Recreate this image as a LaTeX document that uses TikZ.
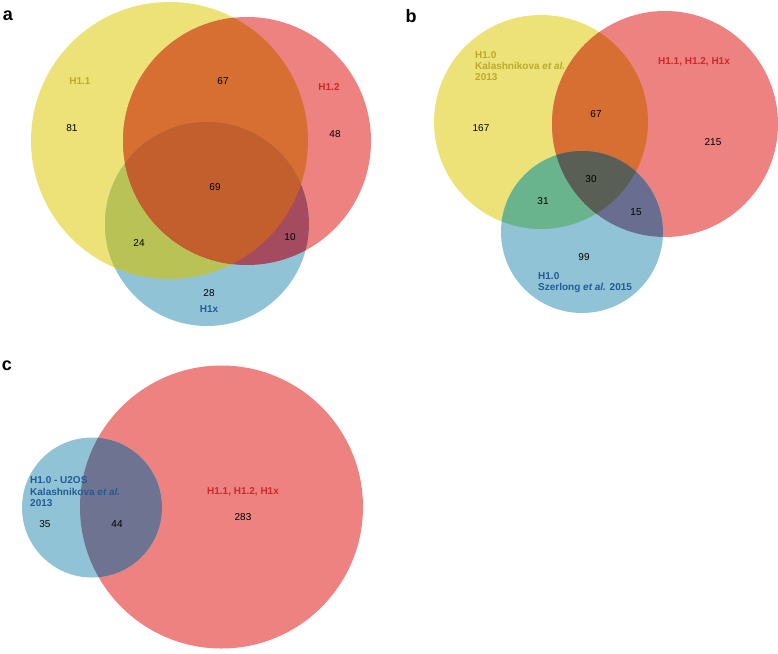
\documentclass[tikz,border=0pt]{standalone}
\usepackage{fontspec}
\setmainfont{Liberation Sans}
\setsansfont{Liberation Sans}
\definecolor{cY}{RGB}{236,226,120}
\definecolor{cR}{RGB}{238,130,128}
\definecolor{cB}{RGB}{145,195,215}
\definecolor{cYR}{RGB}{215,110,50}
\definecolor{aYB}{RGB}{185,195,85}
\definecolor{aRB}{RGB}{165,75,95}
\definecolor{aYRB}{RGB}{195,95,45}
\definecolor{bYB}{RGB}{105,180,140}
\definecolor{bRB}{RGB}{105,110,145}
\definecolor{bYRB}{RGB}{90,95,85}
\definecolor{cRB}{RGB}{110,115,145}
\definecolor{tY}{RGB}{188,170,40}
\definecolor{tR}{RGB}{205,40,45}
\definecolor{tB}{RGB}{35,90,150}
\begin{document}
\begin{tikzpicture}[x=1pt,y=-1pt,
  lbl/.style={font=\bfseries\fontsize{10}{11}\selectfont, inner sep=0pt, align=left},
  num/.style={font=\fontsize{10}{11}\selectfont, inner sep=0pt, text=black},
  panel/.style={font=\bfseries\fontsize{18}{20}\selectfont, inner sep=0pt}]
\useasboundingbox (0,0) rectangle (778,653);
% ---------- panel a ----------
\coordinate (aYc) at (169.5,140.5);
\coordinate (aRc) at (247,141);
\coordinate (aBc) at (207,224);
\fill[cY] (aYc) circle (138.5pt);
\fill[cR] (aRc) circle (124pt);
\fill[cB] (aBc) circle (102pt);
\begin{scope}\clip (aYc) circle (138.5pt); \fill[cYR] (aRc) circle (124pt);\end{scope}
\begin{scope}\clip (aYc) circle (138.5pt); \fill[aYB] (aBc) circle (102pt);\end{scope}
\begin{scope}\clip (aRc) circle (124pt); \fill[aRB] (aBc) circle (102pt);\end{scope}
\begin{scope}\clip (aYc) circle (138.5pt); \clip (aRc) circle (124pt); \fill[aYRB] (aBc) circle (102pt);\end{scope}
\node[panel] (pa) at (8,16) {a};
\node[lbl,text=tY] (aLY) at (80,81) {H1.1};
\node[lbl,text=tR] (aLR) at (329,87) {H1.2};
\node[lbl,text=tB] (aLB) at (209,309) {H1x};
\node[num] (a81) at (72,128) {81};
\node[num] (a67) at (223,81) {67};
\node[num] (a48) at (335,134) {48};
\node[num] (a69) at (215,187) {69};
\node[num] (a24) at (139,243) {24};
\node[num] (a10) at (290,237) {10};
\node[num] (a28) at (209,293) {28};
% ---------- panel b ----------
\coordinate (bYc) at (541,122);
\coordinate (bRc) at (665,124);
\coordinate (bBc) at (582,232);
\fill[cY] (bYc) circle (107pt);
\fill[cR] (bRc) circle (113pt);
\fill[cB] (bBc) circle (81pt);
\begin{scope}\clip (bYc) circle (107pt); \fill[cYR] (bRc) circle (113pt);\end{scope}
\begin{scope}\clip (bYc) circle (107pt); \fill[bYB] (bBc) circle (81pt);\end{scope}
\begin{scope}\clip (bRc) circle (113pt); \fill[bRB] (bBc) circle (81pt);\end{scope}
\begin{scope}\clip (bYc) circle (107pt); \clip (bRc) circle (113pt); \fill[bYRB] (bBc) circle (81pt);\end{scope}
\node[panel] (pb) at (411,16) {b};
\node[lbl,text=tY,anchor=north west] (bLY) at (475,51.5) {H1.0\\Kalashnikova \textit{et al.}\\2013};
\node[lbl,text=tR] (bLR) at (694,62) {H1.1, H1.2, H1x};
\node[lbl,text=tB,anchor=north west] (bLB) at (538,272.5) {H1.0\\Szerlong \textit{et al.} 2015};
\node[num] (b167) at (481,128) {167};
\node[num] (b67) at (596,114) {67};
\node[num] (b215) at (713,142) {215};
\node[num] (b30) at (591,179) {30};
\node[num] (b31) at (543,201) {31};
\node[num] (b15) at (636,212) {15};
\node[num] (b99) at (584,257) {99};
% ---------- panel c ----------
\coordinate (cRc) at (221.5,507);
\coordinate (cBc) at (92,507.5);
\fill[cR] (cRc) circle (141.5pt);
\fill[cB] (cBc) circle (70pt);
\begin{scope}\clip (cRc) circle (141.5pt); \fill[cRB] (cBc) circle (70pt);\end{scope}
\node[panel] (pc) at (7,366) {c};
\node[lbl,text=tB,anchor=north west,font=\bfseries\fontsize{10}{11.5}\selectfont] (cLB) at (30,476.5) {H1.0 - U2OS\\Kalashnikova \textit{et al.}\\2013};
\node[lbl,text=tR] (cLR) at (243,492) {H1.1, H1.2, H1x};
\node[num] (c35) at (45,524) {35};
\node[num] (c44) at (117,524) {44};
\node[num] (c283) at (243,517) {283};
\end{tikzpicture}
\end{document}
